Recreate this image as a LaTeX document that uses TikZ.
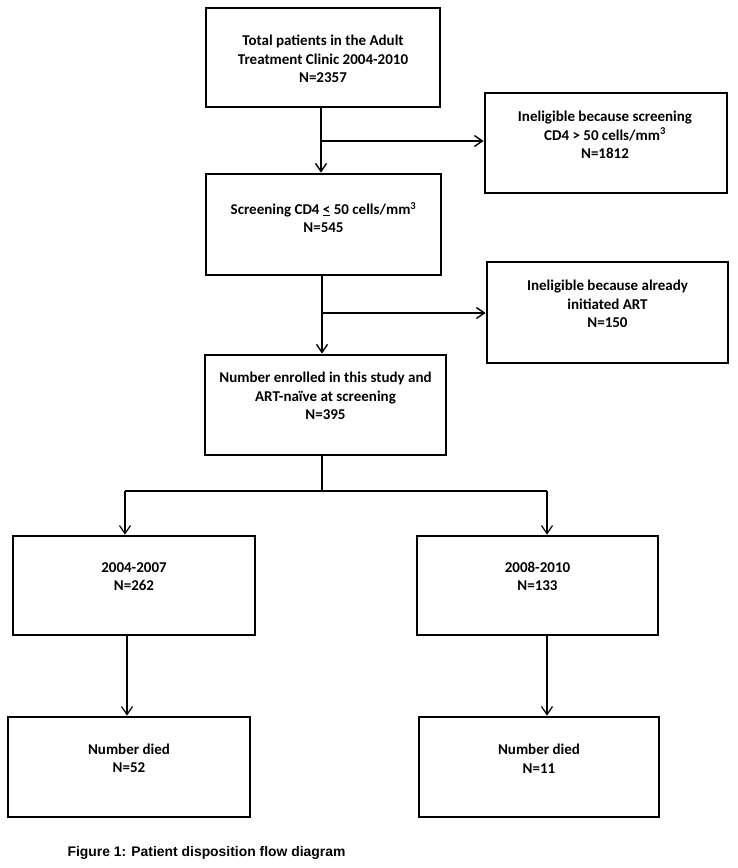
\documentclass[tikz,border=0pt]{standalone}
\usepackage{fontspec}
\setmainfont{Carlito}
\newfontfamily\capfont{Liberation Sans}
\usetikzlibrary{arrows.meta}
\begin{document}
\begin{tikzpicture}[x=1pt,y=-1pt,
  box/.style={draw, line width=2.8pt, rectangle, inner sep=0pt},
  txt/.style={font=\bfseries\fontsize{15}{18.5}\selectfont, align=center, inner sep=0pt},
  conn/.style={line width=1.4pt},
  lconn/.style={line width=1.2pt},
  arr/.style={conn, -{Straight Barb[length=8pt,width=11pt]}},
  larr/.style={lconn, -{Straight Barb[length=8pt,width=11pt]}},
]
\fill[white] (0,0) rectangle (737,868);
\useasboundingbox (0,0) rectangle (737,868);

% boxes
\node[box, minimum width=234pt, minimum height=99pt]  (b1)  at (323,57.5)  {};
\node[box, minimum width=242pt, minimum height=100pt] (in1) at (606,143)   {};
\node[box, minimum width=235pt, minimum height=101pt] (b2)  at (323.5,224.5) {};
\node[box, minimum width=241pt, minimum height=101pt] (in2) at (607.5,312.5) {};
\node[box, minimum width=241pt, minimum height=100pt] (b3)  at (325.5,405) {};
\node[box, minimum width=242pt, minimum height=99pt]  (b4l) at (134,585.5) {};
\node[box, minimum width=241pt, minimum height=99pt]  (b4r) at (537.5,585.5) {};
\node[box, minimum width=242pt, minimum height=100pt] (b5l) at (129,767)   {};
\node[box, minimum width=240pt, minimum height=100pt] (b5r) at (539,767)   {};

% texts
\node[txt] (t1)  at (323,59)    {Total patients in the Adult\\Treatment Clinic 2004-2010\\N=2357};
\node[txt] (ti1) at (605,135)   {Ineligible because screening\\CD4 > 50 cells/mm\textsuperscript{3}\\N=1812};
\node[txt] (t2)  at (323.5,217.5) {Screening CD4 \underline{<} 50 cells/mm\textsuperscript{3}\\N=545};
\node[txt] (ti2) at (607.5,304) {Ineligible because already\\initiated ART\\N=150};
\node[txt] (t3)  at (325.5,396) {Number enrolled in this study and\\ART-naïve at screening\\N=395};
\node[txt] (t4l) at (134,576.5) {2004-2007\\N=262};
\node[txt] (t4r) at (537.5,576.5) {2008-2010\\N=133};
\node[txt] (t5l) at (129,758.5) {Number died\\N=52};
\node[txt] (t5r) at (539,758.5) {Number died\\N=11};

\node[font=\capfont\bfseries\fontsize{13.9}{16}\selectfont, inner sep=0pt] (cap) at (206.5,853) {Figure 1: Patient disposition flow diagram};

% connectors
\coordinate (j1) at (321,141);
\draw[conn] (b1.south -| j1) -- (j1);
\draw[arr] (j1) -- (b2.north -| j1);
\draw[arr] (j1) -- (in1.west |- j1);

\coordinate (j2) at (322,313);
\draw[conn] (b2.south -| j2) -- (j2);
\draw[arr] (j2) -- (b3.north -| j2);
\draw[arr] (j2) -- (in2.west |- j2);

\coordinate (j3) at (322,491);
\coordinate (jl) at (125,491);
\coordinate (jr) at (547,491);
\draw[lconn] (b3.south -| j3) -- (j3);
\draw[lconn] (jl) -- (jr);
\draw[larr] (jl) -- (b4l.north -| jl);
\draw[larr] (jr) -- (b4r.north -| jr);

\coordinate (k1) at (127,676);
\coordinate (k2) at (547,676);
\draw[larr] (b4l.south -| k1) -- (b5l.north -| k1);
\draw[larr] (b4r.south -| k2) -- (b5r.north -| k2);
\end{tikzpicture}
\end{document}
